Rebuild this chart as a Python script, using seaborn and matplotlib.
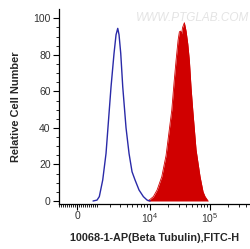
import numpy as np
import pandas as pd
import matplotlib
matplotlib.use("Agg")
import matplotlib.pyplot as plt
import seaborn as sns

# ---- data (fluorescence intensity, relative cell number) ----
control_x = [794, 1026, 1170, 1401, 1647, 2073, 2364, 2576, 2767, 2921, 3134,
             3402, 3887, 4383, 4936, 5556, 6500, 7686, 8875, 9955]
control_y = [0, 0.5, 2.4, 11.5, 26, 62.5, 80.8, 91, 94.5, 91, 80.8,
             62.5, 40, 26, 16, 11.5, 6, 2.4, 0.5, 0]

stained_x = [9215, 11316, 13050, 15640, 18454, 22980, 25100, 27100, 29260, 30760,
             32210, 33480, 34790, 37280, 39800, 42500, 45160, 48200, 51460, 58420,
             68100, 76420, 82530, 92630]
stained_y = [0, 2.4, 6, 13.3, 25, 49.8, 65, 77, 88, 92.6,
             93, 91.5, 95, 97.6, 93, 86, 77, 62, 49.8, 28,
             13.3, 5, 2.4, 0]

xtick_vals = [0, 10000, 100000]
xtick_labels = ["0", "$10^4$", "$10^5$"]
ytick_vals = [0, 20, 40, 60, 80, 100]

x_label = "10068-1-AP(Beta Tubulin),FITC-H"
y_label = "Relative Cell Number"
watermark = "WWW.PTGLAB.COM"

# ---- style ----
sns.set_style("ticks")
plt.rcParams["font.family"] = ["Liberation Sans", "DejaVu Sans"]
plt.rcParams["mathtext.default"] = "regular"

W = 607.0  # biexponential-like width parameter


def fwd(x):
    x = np.asarray(x, dtype=float)
    return np.log10(W) + np.arcsinh(x / (2 * W)) / np.log(10)


def inv(u):
    u = np.asarray(u, dtype=float)
    return 2 * W * np.sinh((u - np.log10(W)) * np.log(10))


fig = plt.figure(figsize=(2.51, 2.49), dpi=100)
ax = fig.add_axes([59 / 251, 1 - 204 / 249, 1 - 59 / 251, (204 - 9) / 249])
ax.set_xscale("function", functions=(fwd, inv))

df_c = pd.DataFrame({"x": control_x, "y": control_y})
df_s = pd.DataFrame({"x": stained_x, "y": stained_y})

red = "#d00000"
blue = "#2a2aa8"
ax.fill_between(df_s["x"], 0, df_s["y"], color=red, linewidth=0, zorder=2)
sns.lineplot(data=df_s, x="x", y="y", ax=ax, color=red, linewidth=0.6,
             sort=False, estimator=None, zorder=2)
sns.lineplot(data=df_c, x="x", y="y", ax=ax, color=blue, linewidth=1.0,
             sort=False, estimator=None, zorder=3)

ax.set_xlim(-907, 4.8e5)
ax.set_ylim(-1.64, 105.1)

ax.set_xticks(xtick_vals)
ax.set_xticklabels(xtick_labels)
minor_x = ([-v for v in range(100, 1000, 100)] + list(range(100, 1000, 100)) +
           list(range(1000, 10000, 1000)) + list(range(20000, 100000, 10000)) +
           list(range(200000, 500000, 100000)))
ax.set_xticks(minor_x, minor=True)
ax.set_yticks(ytick_vals)
ax.set_yticks(np.arange(0, 105, 5), minor=True)

ax.tick_params(axis="both", which="major", length=4, width=0.8, color="black",
               labelsize=7.5, labelcolor="#333333", pad=2)
ax.tick_params(axis="both", which="minor", length=2, width=0.6, color="black")
ax.tick_params(axis="x", which="major", pad=1)

sns.despine(ax=ax, top=True, right=True)
for s in ("left", "bottom"):
    ax.spines[s].set_linewidth(0.9)
    ax.spines[s].set_color("black")

ax.set_xlabel(x_label, fontsize=7.8, fontweight="bold", labelpad=6)
ax.set_ylabel(y_label, fontsize=7.9, fontweight="bold", labelpad=9)

ax.text(0.99, 0.955, watermark, transform=ax.transAxes, ha="right", va="center",
        fontsize=8.5, color="#e4e4e4", fontstyle="italic", zorder=1)

fig.savefig("out.png", dpi=100)
